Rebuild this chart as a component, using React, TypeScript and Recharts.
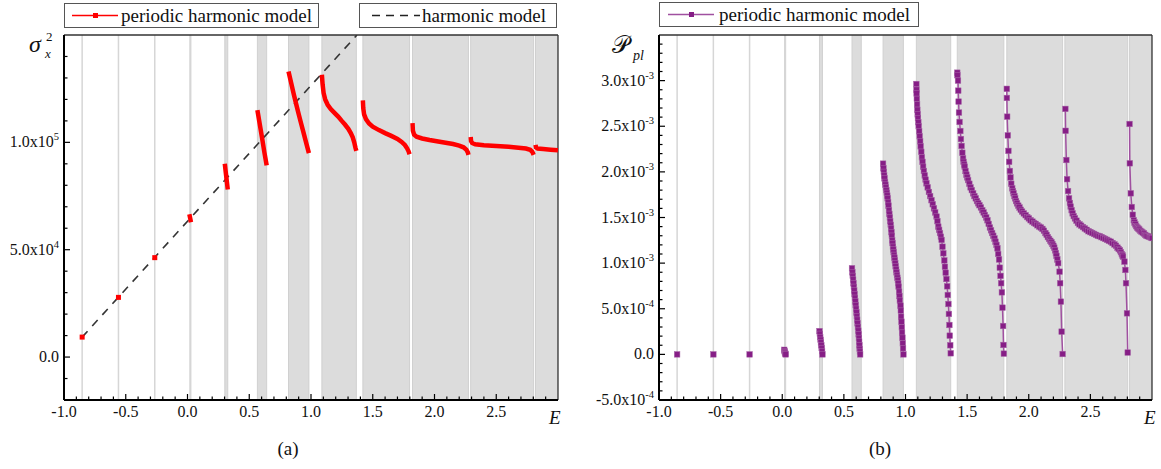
import React from 'react';
import { LineChart, Line, XAxis, YAxis, ReferenceArea, ReferenceLine } from 'recharts';

const FONT = 'Liberation Serif, DejaVu Serif, serif';

// shaded energy bands and the isolated levels below them (E)
const bandEdges: [number, number][] = [
  [0.302, 0.326], [0.566, 0.641], [0.818, 0.983], [1.088, 1.367],
  [1.42, 1.798], [1.822, 2.275], [2.293, 2.803], [2.818, 3.0],
];
const levelLines = [-0.853, -0.559, -0.265, 0.023];

// x ticks (every 0.1, labels every 0.5)
const xTicks = [-1, -0.9, -0.8, -0.7, -0.6, -0.5, -0.4, -0.3, -0.2, -0.1, 0, 0.1, 0.2, 0.3, 0.4, 0.5, 0.6, 0.7, 0.8, 0.9,
  1, 1.1, 1.2, 1.3, 1.4, 1.5, 1.6, 1.7, 1.8, 1.9, 2, 2.1, 2.2, 2.3, 2.4, 2.5, 2.6, 2.7, 2.8, 2.9];
const xLabels: [number, string][] = [[-1, '-1.0'], [-0.5, '-0.5'], [0, '0.0'], [0.5, '0.5'], [1, '1.0'], [1.5, '1.5'], [2, '2.0'], [2.5, '2.5']];

// panel (a): sigma_x^2 in units of 1e3
const yTicksA = [-20, -10, 0, 10, 20, 30, 40, 50, 60, 70, 80, 90, 100, 110, 120, 130, 140];
const yLabelsA: [number, string, string][] = [[0, '0.0', ''], [50, '5.0x10', '4'], [100, '1.0x10', '5']];

const harmonicLine = [[-0.853, 9.3], [1.372, 150]];
const sigmaLevels = [[-0.853, 9.3], [-0.559, 27.8], [-0.265, 46.3]];
const sigmaBand0 = [[0.015, 66.5], [0.022, 64.6], [0.028, 62.8]];
const sigmaBand1 = [[0.302, 90], [0.31, 86], [0.318, 82], [0.326, 78]];
const sigmaBand2 = [[0.566, 115], [0.585, 108.5], [0.604, 102], [0.622, 95.5], [0.641, 89.3]];
const sigmaBand3 = [[0.818, 133], [0.84, 127.5], [0.86, 122.5], [0.88, 117.8], [0.9, 113.2], [0.92, 108.8], [0.94, 104.4], [0.96, 100], [0.983, 95]];
const sigmaBand4 = [[1.088, 131.5], [1.094, 127], [1.102, 123], [1.115, 120], [1.135, 117.5], [1.16, 115.5], [1.194, 113.5], [1.22, 112],
  [1.249, 110], [1.275, 108.3], [1.302, 106.3], [1.322, 104.3], [1.338, 102.3], [1.35, 100], [1.36, 97.5], [1.367, 96]];
const sigmaBand5 = [[1.42, 119.5], [1.423, 116], [1.43, 113], [1.445, 110.8], [1.47, 108.8], [1.5, 107.3], [1.55, 105.7], [1.6, 104.3],
  [1.65, 103], [1.7, 101.6], [1.734, 100.2], [1.76, 98.8], [1.778, 97.2], [1.79, 95.8], [1.798, 94.5]];
const sigmaBand6 = [[1.822, 109], [1.825, 105.5], [1.835, 103.6], [1.855, 102.6], [1.9, 101.8], [1.96, 101.1], [2.03, 100.4], [2.09, 99.8],
  [2.15, 99.2], [2.2, 98.5], [2.235, 97.7], [2.258, 96.6], [2.27, 95.3], [2.275, 94.2]];
const sigmaBand7 = [[2.293, 102.5], [2.296, 100.6], [2.305, 99.7], [2.33, 99.1], [2.4, 98.7], [2.5, 98.3], [2.6, 97.9], [2.68, 97.5],
  [2.74, 97.1], [2.775, 96.5], [2.792, 95.6], [2.803, 94.2]];
const sigmaBand8 = [[2.818, 98.8], [2.822, 97.6], [2.835, 97.1], [2.88, 96.9], [2.94, 96.6], [3.0, 96.3]];

// panel (b): P_pl in units of 1e-3
const yTicksB = [-0.5, -0.4, -0.3, -0.2, -0.1, 0, 0.1, 0.2, 0.3, 0.4, 0.5, 0.6, 0.7, 0.8, 0.9, 1, 1.1, 1.2, 1.3, 1.4, 1.5, 1.6, 1.7, 1.8, 1.9,
  2, 2.1, 2.2, 2.3, 2.4, 2.5, 2.6, 2.7, 2.8, 2.9, 3, 3.1, 3.2, 3.3, 3.4];
const yLabelsB: [number, string, string][] = [[-0.5, '-5.0x10', '-4'], [0, '0.0', ''], [0.5, '5.0x10', '-4'], [1, '1.0x10', '-3'],
  [1.5, '1.5x10', '-3'], [2, '2.0x10', '-3'], [2.5, '2.5x10', '-3'], [3, '3.0x10', '-3']];

const pplLevels = [[-0.853, 0], [-0.559, 0], [-0.265, 0]];
const pplBand0 = [[0.016, 0.05], [0.019, 0.035], [0.022, 0.02], [0.025, 0.008], [0.028, 0]];
const pplBand1 = [[0.302, 0.255], [0.305, 0.225], [0.308, 0.19], [0.311, 0.16], [0.314, 0.13], [0.317, 0.1], [0.32, 0.07], [0.323, 0.035], [0.326, 0]];
const pplBand2 = [[0.566, 0.944], [0.569, 0.9], [0.572, 0.86], [0.575, 0.82], [0.578, 0.78], [0.581, 0.74], [0.584, 0.7], [0.587, 0.66],
  [0.59, 0.62], [0.593, 0.58], [0.596, 0.54], [0.599, 0.5], [0.602, 0.46], [0.605, 0.42], [0.608, 0.38], [0.611, 0.34], [0.614, 0.3],
  [0.617, 0.26], [0.62, 0.22], [0.622, 0.18], [0.624, 0.14], [0.626, 0.1], [0.628, 0.06], [0.63, 0.03], [0.632, 0]];
const pplBand3 = [[0.818, 2.09], [0.821, 2.04], [0.824, 2.0], [0.827, 1.96], [0.83, 1.93], [0.834, 1.89], [0.837, 1.86], [0.841, 1.83],
  [0.845, 1.8], [0.848, 1.77], [0.852, 1.74], [0.855, 1.71], [0.859, 1.67], [0.862, 1.63], [0.866, 1.58], [0.869, 1.54], [0.873, 1.5],
  [0.876, 1.46], [0.88, 1.42], [0.883, 1.38], [0.886, 1.34], [0.889, 1.3], [0.892, 1.25], [0.895, 1.22], [0.898, 1.18], [0.901, 1.15],
  [0.904, 1.12], [0.907, 1.09], [0.91, 1.06], [0.913, 1.03], [0.917, 1.0], [0.92, 0.965], [0.924, 0.93], [0.927, 0.9], [0.931, 0.87],
  [0.934, 0.84], [0.938, 0.815], [0.941, 0.78], [0.944, 0.742], [0.948, 0.687], [0.951, 0.64], [0.954, 0.589], [0.959, 0.534],
  [0.962, 0.479], [0.964, 0.413], [0.967, 0.358], [0.97, 0.297], [0.972, 0.238], [0.975, 0.183], [0.978, 0.122], [0.98, 0.067], [0.983, 0]];
const pplBand4 = [[1.088, 2.963], [1.089, 2.9], [1.09, 2.86], [1.092, 2.8], [1.094, 2.74], [1.096, 2.68], [1.099, 2.63], [1.101, 2.59],
  [1.104, 2.545], [1.107, 2.5], [1.111, 2.445], [1.115, 2.39], [1.119, 2.335], [1.123, 2.28], [1.128, 2.22], [1.133, 2.16], [1.138, 2.11],
  [1.143, 2.057], [1.149, 2.01], [1.156, 1.96], [1.163, 1.915], [1.17, 1.875], [1.18, 1.83], [1.19, 1.78], [1.2, 1.735], [1.211, 1.69],
  [1.221, 1.645], [1.231, 1.6], [1.241, 1.555], [1.252, 1.51], [1.259, 1.46], [1.266, 1.4], [1.273, 1.365], [1.28, 1.33], [1.287, 1.29],
  [1.293, 1.254], [1.3, 1.18], [1.307, 1.108], [1.315, 1.03], [1.32, 0.96], [1.326, 0.895], [1.332, 0.826], [1.338, 0.746], [1.343, 0.651],
  [1.348, 0.552], [1.352, 0.443], [1.356, 0.322], [1.359, 0.205], [1.363, 0.1], [1.367, 0.012]];
const pplBand5 = [[1.42, 3.087], [1.421, 3.06], [1.426, 3.0], [1.428, 2.89], [1.431, 2.77], [1.434, 2.65], [1.439, 2.547], [1.445, 2.448],
  [1.45, 2.36], [1.455, 2.284], [1.461, 2.21], [1.467, 2.149], [1.471, 2.11], [1.476, 2.08], [1.48, 2.057], [1.487, 2.01], [1.494, 1.97],
  [1.501, 1.94], [1.508, 1.91], [1.518, 1.87], [1.528, 1.83], [1.538, 1.8], [1.549, 1.765], [1.559, 1.735], [1.57, 1.71], [1.58, 1.68],
  [1.59, 1.656], [1.6, 1.635], [1.612, 1.61], [1.623, 1.58], [1.634, 1.555], [1.644, 1.528], [1.655, 1.5], [1.665, 1.47], [1.675, 1.43],
  [1.685, 1.39], [1.694, 1.36], [1.703, 1.33], [1.712, 1.3], [1.722, 1.27], [1.73, 1.235], [1.738, 1.2], [1.746, 1.163], [1.752, 1.1],
  [1.759, 1.04], [1.765, 0.95], [1.771, 0.86], [1.776, 0.78], [1.782, 0.68], [1.787, 0.512], [1.792, 0.311], [1.795, 0.103], [1.798, 0.008]];
const pplBand6 = [[1.822, 2.91], [1.8225, 2.81], [1.825, 2.605], [1.83, 2.4], [1.835, 2.23], [1.841, 2.11], [1.847, 2.01], [1.852, 1.94],
  [1.858, 1.87], [1.866, 1.82], [1.872, 1.79], [1.877, 1.765], [1.884, 1.735], [1.89, 1.71], [1.897, 1.68], [1.905, 1.655], [1.915, 1.63],
  [1.925, 1.61], [1.935, 1.585], [1.946, 1.565], [1.96, 1.545], [1.975, 1.525], [1.988, 1.505], [2.001, 1.49], [2.015, 1.47], [2.03, 1.455],
  [2.043, 1.44], [2.056, 1.43], [2.07, 1.415], [2.085, 1.4], [2.098, 1.39], [2.111, 1.375], [2.123, 1.355], [2.135, 1.33], [2.145, 1.31],
  [2.155, 1.285], [2.165, 1.265], [2.175, 1.245], [2.184, 1.23], [2.192, 1.21], [2.2, 1.19], [2.207, 1.17], [2.214, 1.14], [2.22, 1.11],
  [2.225, 1.08], [2.232, 1.04], [2.239, 1.0], [2.25, 0.906], [2.255, 0.78], [2.261, 0.578], [2.267, 0.249], [2.275, 0.004]];
const pplBand7 = [[2.297, 2.69], [2.299, 2.45], [2.305, 2.13], [2.311, 1.92], [2.319, 1.79], [2.327, 1.71], [2.334, 1.66], [2.34, 1.62],
  [2.348, 1.58], [2.356, 1.545], [2.365, 1.515], [2.375, 1.49], [2.387, 1.465], [2.399, 1.44], [2.412, 1.425], [2.425, 1.41], [2.44, 1.395],
  [2.455, 1.38], [2.47, 1.365], [2.485, 1.35], [2.5, 1.34], [2.515, 1.33], [2.53, 1.32], [2.545, 1.31], [2.56, 1.3], [2.575, 1.295],
  [2.59, 1.285], [2.605, 1.275], [2.62, 1.265], [2.635, 1.255], [2.65, 1.245], [2.666, 1.235], [2.68, 1.22], [2.695, 1.205], [2.708, 1.19],
  [2.72, 1.17], [2.73, 1.155], [2.74, 1.14], [2.748, 1.12], [2.755, 1.1], [2.761, 1.085], [2.765, 1.07], [2.776, 1.016], [2.784, 0.925],
  [2.789, 0.78], [2.797, 0.45], [2.803, 0.02]];
const pplBand8 = [[2.818, 2.525], [2.82, 2.094], [2.828, 1.765], [2.836, 1.615], [2.844, 1.53], [2.852, 1.47], [2.858, 1.445], [2.865, 1.425],
  [2.872, 1.405], [2.88, 1.39], [2.888, 1.38], [2.896, 1.37], [2.905, 1.355], [2.915, 1.345], [2.925, 1.335], [2.935, 1.325], [2.945, 1.31],
  [2.955, 1.3], [2.965, 1.295], [2.975, 1.29], [2.985, 1.285], [2.995, 1.28], [3.0, 1.275]];

const toPts = (rows: number[][]) => rows.map(([e, v]) => ({ e, v }));
const near = (a: number, b: number) => Math.abs(a - b) < 1e-6;

const sigmaBands = [sigmaBand0, sigmaBand1, sigmaBand2, sigmaBand3, sigmaBand4, sigmaBand5, sigmaBand6, sigmaBand7, sigmaBand8];
const pplBands = [pplBand0, pplBand1, pplBand2, pplBand3, pplBand4, pplBand5, pplBand6, pplBand7, pplBand8];

const RED = '#ff0000';
const PURPLE = '#861e86';
const txt = { fontFamily: FONT };

function XTick(props: any) {
  const { x, y, payload } = props;
  const lab = xLabels.find(l => near(l[0], payload.value));
  return (
    <g>
      <line x1={x} x2={x} y1={y} y2={y - (lab ? 6 : 3.5)} stroke="#000" strokeWidth={1.2} />
      {lab && (
        <text x={x} y={y + 17} textAnchor="middle" fontSize={16} style={txt} fill="#111">{lab[1]}</text>
      )}
    </g>
  );
}

function makeYTick(labels: [number, string, string][]) {
  return function YTick(props: any) {
    const { x, y, payload } = props;
    const lab = labels.find(l => near(l[0], payload.value));
    return (
      <g>
        <line x1={x} x2={x + (lab ? 6 : 3.5)} y1={y} y2={y} stroke="#000" strokeWidth={1.2} />
        {lab && (
          <text x={x - 5} y={y + 5} textAnchor="end" fontSize={16} style={txt} fill="#111">
            {lab[1]}
            {lab[2] && <tspan dy={-7} fontSize={10.5}>{lab[2]}</tspan>}
          </text>
        )}
      </g>
    );
  };
}
const YTickA = makeYTick(yLabelsA);
const YTickB = makeYTick(yLabelsB);

const RedSquare = (p: any) => (
  <rect key={`r${p.index}`} x={p.cx - 2.5} y={p.cy - 2.5} width={5} height={5} fill={RED} />
);
const PurpleSquare = (p: any) => (
  <rect key={`p${p.index}`} x={p.cx - 2.8} y={p.cy - 2.8} width={5.6} height={5.6} fill={PURPLE} stroke="#a869a8" strokeWidth={0.5} />
);

function Backdrop(yTop: number) {
  return [
    ...bandEdges.map(([a, b], i) => (
      <ReferenceArea key={`band${i}`} x1={a} x2={b} fill="#dcdcdc" fillOpacity={1} stroke="#d0d0d0" strokeWidth={1} ifOverflow="hidden" />
    )),
    ...levelLines.map((e, i) => (
      <ReferenceLine key={`lvl${i}`} x={e} stroke="#d6d6d6" strokeWidth={i === 3 ? 2.2 : 1.5} />
    )),
    <ReferenceLine key="top" y={yTop} stroke="#333" strokeWidth={1.3} />,
    <ReferenceLine key="right" x={3} stroke="#333" strokeWidth={1.3} />,
  ];
}

function SigmaChart() {
  return (
    <LineChart width={580} height={469} margin={{ top: 35, right: 22, bottom: 39, left: 4 }}>
      <XAxis type="number" dataKey="e" domain={[-1, 3]} allowDataOverflow ticks={xTicks} interval={0} height={30}
        tickSize={0} tickMargin={0} tickLine={false} axisLine={{ stroke: '#000', strokeWidth: 2 }} tick={<XTick />} />
      <YAxis type="number" dataKey="v" domain={[-20, 150]} allowDataOverflow ticks={yTicksA} interval={0} width={60}
        tickSize={0} tickMargin={0} tickLine={false} axisLine={{ stroke: '#000', strokeWidth: 2 }} tick={<YTickA />} />
      {Backdrop(150)}
      <Line data={toPts(harmonicLine)} dataKey="v" stroke="#333" strokeWidth={1.6} strokeDasharray="8 7" dot={false} isAnimationActive={false} />
      {sigmaBands.map((b, i) => (
        <Line key={`s${i}`} data={toPts(b)} dataKey="v" stroke={RED} strokeWidth={4.5} dot={false} isAnimationActive={false} />
      ))}
      <Line data={toPts(sigmaLevels)} dataKey="v" stroke="none" dot={RedSquare} isAnimationActive={false} />
    </LineChart>
  );
}

function PplChart() {
  return (
    <LineChart width={581} height={469} margin={{ top: 35, right: 9, bottom: 39, left: 19 }}>
      <XAxis type="number" dataKey="e" domain={[-1, 3]} allowDataOverflow ticks={xTicks} interval={0} height={30}
        tickSize={0} tickMargin={0} tickLine={false} axisLine={{ stroke: '#000', strokeWidth: 2 }} tick={<XTick />} />
      <YAxis type="number" dataKey="v" domain={[-0.5, 3.5]} allowDataOverflow ticks={yTicksB} interval={0} width={60}
        tickSize={0} tickMargin={0} tickLine={false} axisLine={{ stroke: '#000', strokeWidth: 2 }} tick={<YTickB />} />
      {Backdrop(3.5)}
      <Line data={toPts(pplLevels)} dataKey="v" stroke="none" dot={PurpleSquare} isAnimationActive={false} />
      {pplBands.map((b, i) => (
        <Line key={`p${i}`} data={toPts(b)} dataKey="v" stroke="#a050a0" strokeWidth={1.5} dot={PurpleSquare} isAnimationActive={false} />
      ))}
    </LineChart>
  );
}

function Overlay() {
  const t = { style: txt, fill: '#111' };
  return (
    <svg width={1161} height={469} style={{ position: 'absolute', left: 0, top: 0, pointerEvents: 'none' }}>
      {/* legends */}
      <rect x={64.5} y={3.5} width={254} height={24} fill="#fff" stroke="#555" />
      <line x1={72} x2={118} y1={15.5} y2={15.5} stroke={RED} strokeWidth={1.5} />
      <rect x={93} y={13} width={5} height={5} fill={RED} />
      <text x={121} y={22} fontSize={19} {...t}>periodic harmonic model</text>
      <rect x={359.5} y={3.5} width={197} height={24} fill="#fff" stroke="#555" />
      <line x1={372} x2={420} y1={15.5} y2={15.5} stroke="#222" strokeWidth={1.6} strokeDasharray="8 6" />
      <text x={422} y={22} fontSize={19} {...t}>harmonic model</text>
      <rect x={659.5} y={2.5} width={259} height={24} fill="#fff" stroke="#555" />
      <line x1={668} x2={714} y1={14.5} y2={14.5} stroke="#a050a0" strokeWidth={1.3} />
      <rect x={689} y={12} width={5} height={5} fill={PURPLE} />
      <text x={719} y={21} fontSize={19} {...t}>periodic harmonic model</text>

      {/* axis labels */}
      <text x={29} y={52} fontSize={24} fontStyle="italic" {...t}>σ</text>
      <text x={45} y={58} fontSize={13} fontStyle="italic" {...t}>x</text>
      <text x={46} y={41} fontSize={13} {...t}>2</text>
      <text x={612} y={53} fontSize={24} {...t}>𝒫</text>
      <text x={633} y={60} fontSize={14} fontStyle="italic" {...t}>pl</text>
      <text x={549} y={424} fontSize={19} fontStyle="italic" {...t}>E</text>
      <text x={1144} y={424} fontSize={19} fontStyle="italic" {...t}>E</text>

      {/* captions */}
      <text x={288} y={455} fontSize={19} textAnchor="middle" {...t}>(a)</text>
      <text x={880} y={455} fontSize={19} textAnchor="middle" {...t}>(b)</text>
    </svg>
  );
}

export default function App() {
  return (
    <div style={{ position: 'absolute', left: 0, top: 0, width: 1161, height: 469, background: '#fff' }}>
      <div style={{ position: 'absolute', left: 0, top: 0 }}><SigmaChart /></div>
      <div style={{ position: 'absolute', left: 580, top: 0 }}><PplChart /></div>
      <Overlay />
    </div>
  );
}
